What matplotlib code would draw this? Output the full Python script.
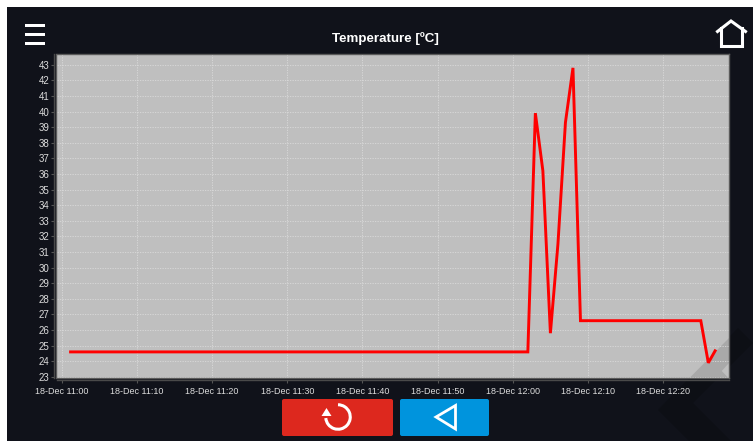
import matplotlib
matplotlib.use('Agg')
import matplotlib.pyplot as plt
import matplotlib.dates as mdates
import matplotlib.patches as mpatches
import pandas as pd

plt.rcParams['font.family'] = ['Liberation Sans', 'DejaVu Sans']

# Data
times = ['11:01', '12:02', '12:03', '12:04', '12:05', '12:06', '12:07',
         '12:08', '12:09', '12:25', '12:26', '12:27']
temps = [24.6, 24.6, 39.9, 36.2, 25.8, 31.5, 39.3, 42.8, 26.6, 26.6, 23.9, 24.75]
tick_times = ['11:00', '11:10', '11:20', '11:30', '11:40', '11:50',
              '12:00', '12:10', '12:20']
y_ticks = list(range(23, 44))
title = 'Temperature [ºC]'

W, H = 753, 441
BG = '#10121a'
BG_DARK = '#0d0f15'
TXT = '#dcdcdc'


def stamp(t):
    return pd.Timestamp('2023-12-18 ' + t)


fig = plt.figure(figsize=(W / 100, H / 100), dpi=100, facecolor=BG)

# overlay in pixel coordinates for the screen furniture
bg = fig.add_axes([0, 0, 1, 1], zorder=0)
bg.set_xlim(0, W)
bg.set_ylim(H, 0)
bg.axis('off')
ui = fig.add_axes([0, 0, 1, 1], zorder=3)
ui.set_xlim(0, W)
ui.set_ylim(H, 0)
ui.axis('off')

# faint diagonal shape behind everything
bg.add_patch(mpatches.Polygon([(658, 410), (738, 328), (753, 343), (693, 403), (731, 441), (689, 441)],
                              color=BG_DARK, lw=0))

# white strips on top and left of the screenshot
bg.add_patch(mpatches.Rectangle((0, 0), W, 7, color='white', lw=0))
bg.add_patch(mpatches.Rectangle((0, 0), 7, H, color='white', lw=0))

# main chart
left, right, top, bottom = 56.5, 729, 53.5, 377.5
ax = fig.add_axes([left / W, 1 - bottom / H, (right - left) / W, (bottom - top) / H], zorder=2)
ax.set_facecolor('#bfbfbf')

x0 = stamp('11:00')
xmin = x0 + pd.Timedelta(minutes=(left - 61.6) / 7.52)
xmax = x0 + pd.Timedelta(minutes=(right - 61.6) / 7.52)
ax.set_xlim(xmin, xmax)
ax.set_ylim(22.96, 43.72)

ax.add_patch(mpatches.Polygon([(690, 377.5), (729, 338), (729, 363), (721.7, 371), (728, 377.5)],
                              transform=ui.transData, color='#a9a9a9', lw=0, zorder=0.5))

ax.plot([stamp(t) for t in times], temps, color='#ff0000', lw=2.1, zorder=3,
        solid_joinstyle='miter', solid_capstyle='butt')

ax.set_xticks([stamp(t) for t in tick_times])
ax.xaxis.set_major_formatter(mdates.DateFormatter('%d-%b %H:%M'))
ax.set_yticks(y_ticks)
ax.grid(True, color='#dadada', lw=0.6, ls=(0, (1.5, 1.5)), zorder=1)
ax.set_axisbelow(True)

ax.tick_params(axis='both', colors='#555555', labelcolor=TXT, length=2, width=0.8)
ax.tick_params(axis='x', labelsize=6.5, pad=3)
ax.tick_params(axis='y', labelsize=7, pad=1)
for name in ['top', 'right']:
    ax.spines[name].set_color('#5a5a5a')
    ax.spines[name].set_linewidth(1)
for name in ['left', 'bottom']:
    ax.spines[name].set_color('#4a4a4a')
    ax.spines[name].set_linewidth(1)
    ax.spines[name].set_position(('outward', 2))
# inner border where the outward spines left a gap
ui.plot([left, left, right], [top, bottom, bottom], color='#5a5a5a', lw=1)

ui.text(385.5, 38.5, title, color='white', fontsize=9.6, fontweight='bold', ha='center', va='center')

# hamburger
for y in [25, 34, 43.5]:
    ui.add_patch(mpatches.Rectangle((25, y - 1.5), 20, 3, color='white', lw=0))

# home icon
ui.plot([717.5, 731, 745.5], [31.5, 21, 31.5], color='white', lw=2.2, solid_joinstyle='miter')
ui.plot([721.5, 721.5, 742, 742], [28, 46, 46, 28], color='white', lw=2.2, solid_joinstyle='miter')

# buttons
ui.add_patch(mpatches.FancyBboxPatch((283, 400), 109, 35, boxstyle='round,pad=1,rounding_size=2',
                                     color='#dd281e', lw=0))
ui.add_patch(mpatches.FancyBboxPatch((401, 400), 87, 35, boxstyle='round,pad=1,rounding_size=2',
                                     color='#0094dd', lw=0))
ui.add_patch(mpatches.Arc((338, 417), 24.5, 24.5, theta1=-90, theta2=175, color='white', lw=2.2))
ui.add_patch(mpatches.Polygon([(326.5, 408), (321.5, 416), (331.5, 416)], color='white', lw=0))
ui.add_patch(mpatches.Polygon([(436, 417), (455.5, 405.5), (455.5, 429)], closed=True, fill=False,
                              edgecolor='white', lw=2.0, joinstyle='miter'))

fig.savefig('out.png', dpi=100, facecolor=fig.get_facecolor())
